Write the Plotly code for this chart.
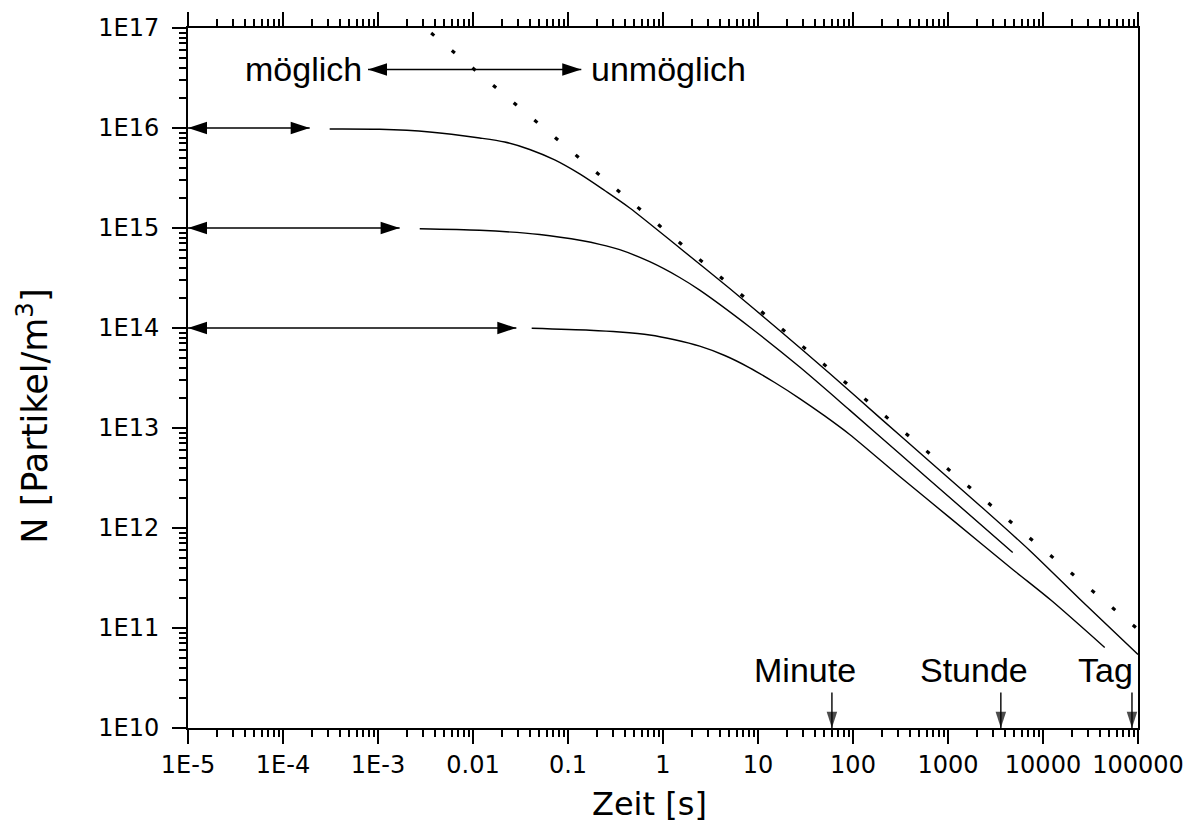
import plotly.graph_objects as go
import numpy as np

# ---- data ----
t_top = [3.10e-4, 1.04e-3, 3.50e-3, 0.01176, 0.02158, 0.03954, 0.07244, 0.1327, 0.2432, 0.4467,
         1.500, 5.035, 16.90, 56.89, 191.0, 641.2, 2158, 7244, 24320, 1e5]
n_top = [9.77e15, 9.70e15, 9.12e15, 7.94e15, 7.24e15, 6.10e15, 4.79e15, 3.47e15, 2.37e15, 1.585e15,
         6.31e14, 2.48e14, 9.44e13, 3.51e13, 1.27e13, 4.62e12, 1.68e12, 5.96e11, 1.95e11, 5.43e10]

t_mid = [2.75e-3, 0.01176, 0.05036, 0.1428, 0.2157, 0.3501, 0.7244, 1.499, 2.434, 8.175, 27.48,
         92.3, 310.1, 1042, 4799]
n_mid = [9.82e14, 9.48e14, 8.61e14, 7.45e14, 6.86e14, 6.07e14, 4.60e14, 3.20e14, 2.39e14, 1.023e14,
         4.07e13, 1.51e13, 5.52e12, 2.02e12, 5.69e11]

t_bot = [0.04148, 0.1692, 0.3501, 0.7244, 1.328, 2.434, 4.462, 8.175, 14.99, 27.48, 50.36, 92.3,
         310.1, 1042, 4799, 12260, 44620]
n_bot = [9.95e13, 9.51e13, 9.12e13, 8.51e13, 7.62e13, 6.58e13, 5.31e13, 4.00e13, 2.85e13, 1.97e13,
         1.32e13, 8.61e12, 3.27e12, 1.27e12, 3.85e11, 1.88e11, 6.38e10]

# dotted limit line
t_limit = [2.2e-3, 1e5]
n_limit = [1.33e17, 9.7e10]

# start-time arrows (left end at 1E-5)
arrow_n0 = [1e16, 1e15, 1e14]
arrow_tend = [1.91e-4, 1.69e-3, 0.0286]

# möglich / unmöglich arrow
mu_t = [7.85e-4, 0.138]
mu_n = 3.85e16

# time markers
mark_labels = ["Minute", "Stunde", "Tag"]
mark_t = [60, 3600, 86400]
mark_top = 2.26e10

x_tickvals = [1e-5, 1e-4, 1e-3, 0.01, 0.1, 1, 10, 100, 1000, 10000, 100000]
x_ticktext = ["1E-5", "1E-4", "1E-3", "0.01", "0.1", "1", "10", "100", "1000", "10000", "100000"]
y_tickvals = [1e10, 1e11, 1e12, 1e13, 1e14, 1e15, 1e16, 1e17]
y_ticktext = ["1E10", "1E11", "1E12", "1E13", "1E14", "1E15", "1E16", "1E17"]

FONT = "Liberation Sans, Arial, sans-serif"
TFONT = "DejaVu Sans, sans-serif"
fig = go.Figure()

for tt, nn in [(t_top, n_top), (t_mid, n_mid), (t_bot, n_bot)]:
    fig.add_trace(go.Scatter(x=tt, y=nn, mode="lines",
                             line=dict(color="black", width=1.4, shape="spline", smoothing=0.8),
                             showlegend=False, hoverinfo="skip"))

fig.add_trace(go.Scatter(x=t_limit, y=n_limit, mode="lines",
                         line=dict(color="black", width=3.2, dash="4px,23px"),
                         showlegend=False, hoverinfo="skip"))

ARW = dict(symbol="arrow", size=20, color="black", line=dict(width=0))

# horizontal double arrows
for n0, te in zip(arrow_n0, arrow_tend):
    fig.add_trace(go.Scatter(x=[1e-5, te], y=[n0, n0], mode="lines+markers",
                             line=dict(color="black", width=1.4),
                             marker=dict(**ARW, angle=[270, 90]),
                             cliponaxis=False, showlegend=False, hoverinfo="skip"))

fig.add_trace(go.Scatter(x=mu_t, y=[mu_n, mu_n], mode="lines+markers",
                         line=dict(color="black", width=1.4),
                         marker=dict(**ARW, angle=[270, 90]),
                         cliponaxis=False, showlegend=False, hoverinfo="skip"))

# down arrows for time markers
for tm in mark_t:
    fig.add_trace(go.Scatter(x=[tm, tm], y=[mark_top, 1e10], mode="lines+markers",
                             line=dict(color="black", width=1.4),
                             marker=dict(symbol="arrow", size=[0, 17], color="black", line=dict(width=0),
                                         angle=180),
                             cliponaxis=False, showlegend=False, hoverinfo="skip"))

annotations = []
annotations.append(dict(x=np.log10(mu_t[0]), y=np.log10(mu_n), xref="x", yref="y", text="möglich",
                        showarrow=False, xanchor="right", yanchor="middle", xshift=-4,
                        font=dict(size=34, color="black", family=FONT)))
annotations.append(dict(x=np.log10(mu_t[1]), y=np.log10(mu_n), xref="x", yref="y", text="unmöglich",
                        showarrow=False, xanchor="left", yanchor="middle", xshift=8,
                        font=dict(size=34, color="black", family=FONT)))
for lab, tm in zip(mark_labels, mark_t):
    xa = "right" if lab == "Tag" else "center"
    xs = 3 if lab == "Tag" else -27
    annotations.append(dict(x=np.log10(tm), y=np.log10(mark_top), xref="x", yref="y", text=lab,
                            showarrow=False, xanchor=xa, yanchor="bottom", xshift=xs, yshift=2,
                            font=dict(size=34, color="black", family=FONT)))

annotations.append(dict(x=0.486, y=-0.108, xref="paper", yref="paper", text="Zeit [s]", showarrow=False,
                        xanchor="center", yanchor="middle", font=dict(size=32, color="black", family=TFONT)))
annotations.append(dict(x=-0.163, y=0.445, xref="paper", yref="paper", text="N [Partikel/m<sup>3</sup>]",
                        showarrow=False, textangle=-90, xanchor="center", yanchor="middle",
                        font=dict(size=35, color="black", family=TFONT)))

axis_common = dict(type="log", showgrid=False, zeroline=False, showline=True, linecolor="black",
                   linewidth=2, ticks="outside", ticklen=14, tickwidth=2, tickcolor="black",
                   automargin=False,
                   tickfont=dict(size=24, color="black", family=TFONT),
                   minor=dict(ticks="outside", ticklen=7, tickwidth=2, tickcolor="black", dtick="D1"))

fig.update_layout(
    width=1187, height=826,
    margin=dict(l=180, r=57, t=20, b=106),
    paper_bgcolor="white", plot_bgcolor="white",
    xaxis=dict(**axis_common, range=[-5, 5], tickvals=x_tickvals, ticktext=x_ticktext, mirror="ticks",
               ticklabelstandoff=0),
    yaxis=dict(**axis_common, range=[10, 17], tickvals=y_tickvals, ticktext=y_ticktext, mirror=True,
               ticklabelstandoff=8),
    annotations=annotations,
    showlegend=False,
)

fig.write_html("out.html")
